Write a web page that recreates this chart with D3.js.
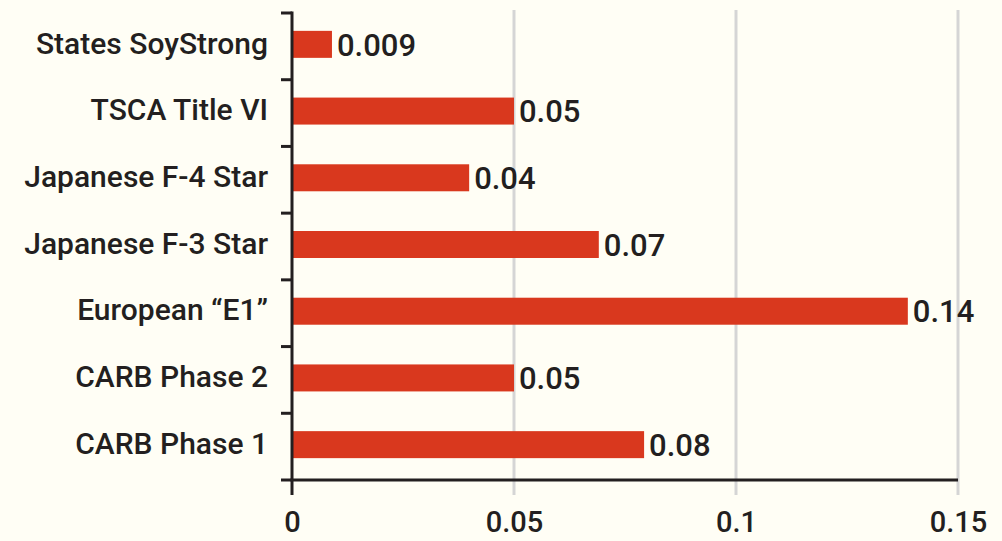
<!DOCTYPE html>
<html>
<head>
<meta charset="utf-8">
<script src="https://cdn.jsdelivr.net/npm/d3@7"></script>
<style>
  html, body { margin: 0; padding: 0; background: #fffef5; }
  svg { display: block; }
  text { font-family: Roboto, "Noto Sans", sans-serif; font-weight: 500; fill: #231f20; }
</style>
</head>
<body>
<svg id="chart" width="1002" height="541"></svg>
<script>
const categories = ["States SoyStrong", "TSCA Title VI", "Japanese F-4 Star", "Japanese F-3 Star", "European \u201CE1\u201D", "CARB Phase 2", "CARB Phase 1"];
const values = [0.009, 0.05, 0.0399, 0.0691, 0.1387, 0.05, 0.0793];
const valueLabels = ["0.009", "0.05", "0.04", "0.07", "0.14", "0.05", "0.08"];
const xTicks = [0, 0.05, 0.1, 0.15];
const xTickLabels = ["0", "0.05", "0.1", "0.15"];

const svg = d3.select("#chart");
const margin = { left: 292, right: 44, top: 13, bottom: 61 };
const W = 1002, H = 541;

const x = d3.scaleLinear().domain([0, 0.15]).range([margin.left, W - margin.right]);
const y = d3.scaleBand().domain(categories).range([margin.top, H - margin.bottom]).paddingInner(0).paddingOuter(0);

const ink = "#231f20";

// gridlines
svg.append("g").selectAll("line").data(xTicks.slice(1)).join("line")
  .attr("x1", d => x(d)).attr("x2", d => x(d))
  .attr("y1", 10).attr("y2", 495)
  .attr("stroke", "#d5d5d5").attr("stroke-width", 3);

// bars
const barH = 27;
svg.append("g").selectAll("rect").data(categories).join("rect")
  .attr("x", x(0))
  .attr("y", (d) => y(d) + (y.bandwidth() - barH) / 2 - 2)
  .attr("width", (d, i) => x(values[i]) - x(0))
  .attr("height", barH)
  .attr("fill", "#d9381e");

// value labels
svg.append("g").selectAll("text").data(categories).join("text")
  .attr("x", (d, i) => x(values[i]) + 5)
  .attr("y", (d) => y(d) + y.bandwidth() / 2 - 2)
  .attr("dy", "0.36em")
  .attr("font-size", 31)
  .text((d, i) => valueLabels[i]);

// y axis
const yAxis = d3.axisLeft(y).tickSize(0).tickFormat(d => d);
const gy = svg.append("g").attr("transform", `translate(${x(0)},0)`).call(yAxis);
gy.select(".domain").remove();
gy.selectAll("text")
  .attr("x", -24)
  .attr("dy", "0.34em")
  .attr("transform", "translate(0,-3)")
  .attr("font-size", 30)
  .style("font-family", "Roboto, sans-serif")
  .style("font-weight", 500)
  .attr("fill", ink);

// boundary ticks on y axis
const bounds = categories.map(c => y(c)).concat([y(categories[categories.length - 1]) + y.bandwidth()]);
svg.append("g").selectAll("line").data(bounds).join("line")
  .attr("x1", x(0) - 11).attr("x2", x(0))
  .attr("y1", d => d).attr("y2", d => d)
  .attr("stroke", ink).attr("stroke-width", 3);

// y axis line
svg.append("line")
  .attr("x1", x(0)).attr("x2", x(0))
  .attr("y1", y.range()[0] - 1.5).attr("y2", 495)
  .attr("stroke", ink).attr("stroke-width", 3);

// x axis
const xAxis = d3.axisBottom(x).tickValues(xTicks).tickSize(0).tickFormat((d, i) => xTickLabels[i]);
const gx = svg.append("g").attr("transform", `translate(0,${y.range()[1]})`).call(xAxis);
gx.select(".domain").remove();
gx.selectAll("text")
  .attr("y", 52)
  .attr("dy", 0)
  .attr("font-size", 29)
  .style("font-family", "Roboto, sans-serif")
  .style("font-weight", 500)
  .attr("fill", ink);

svg.append("line")
  .attr("x1", x(0) - 1.5).attr("x2", x(0.15))
  .attr("y1", y.range()[1]).attr("y2", y.range()[1])
  .attr("stroke", ink).attr("stroke-width", 3);
</script>
</body>
</html>
